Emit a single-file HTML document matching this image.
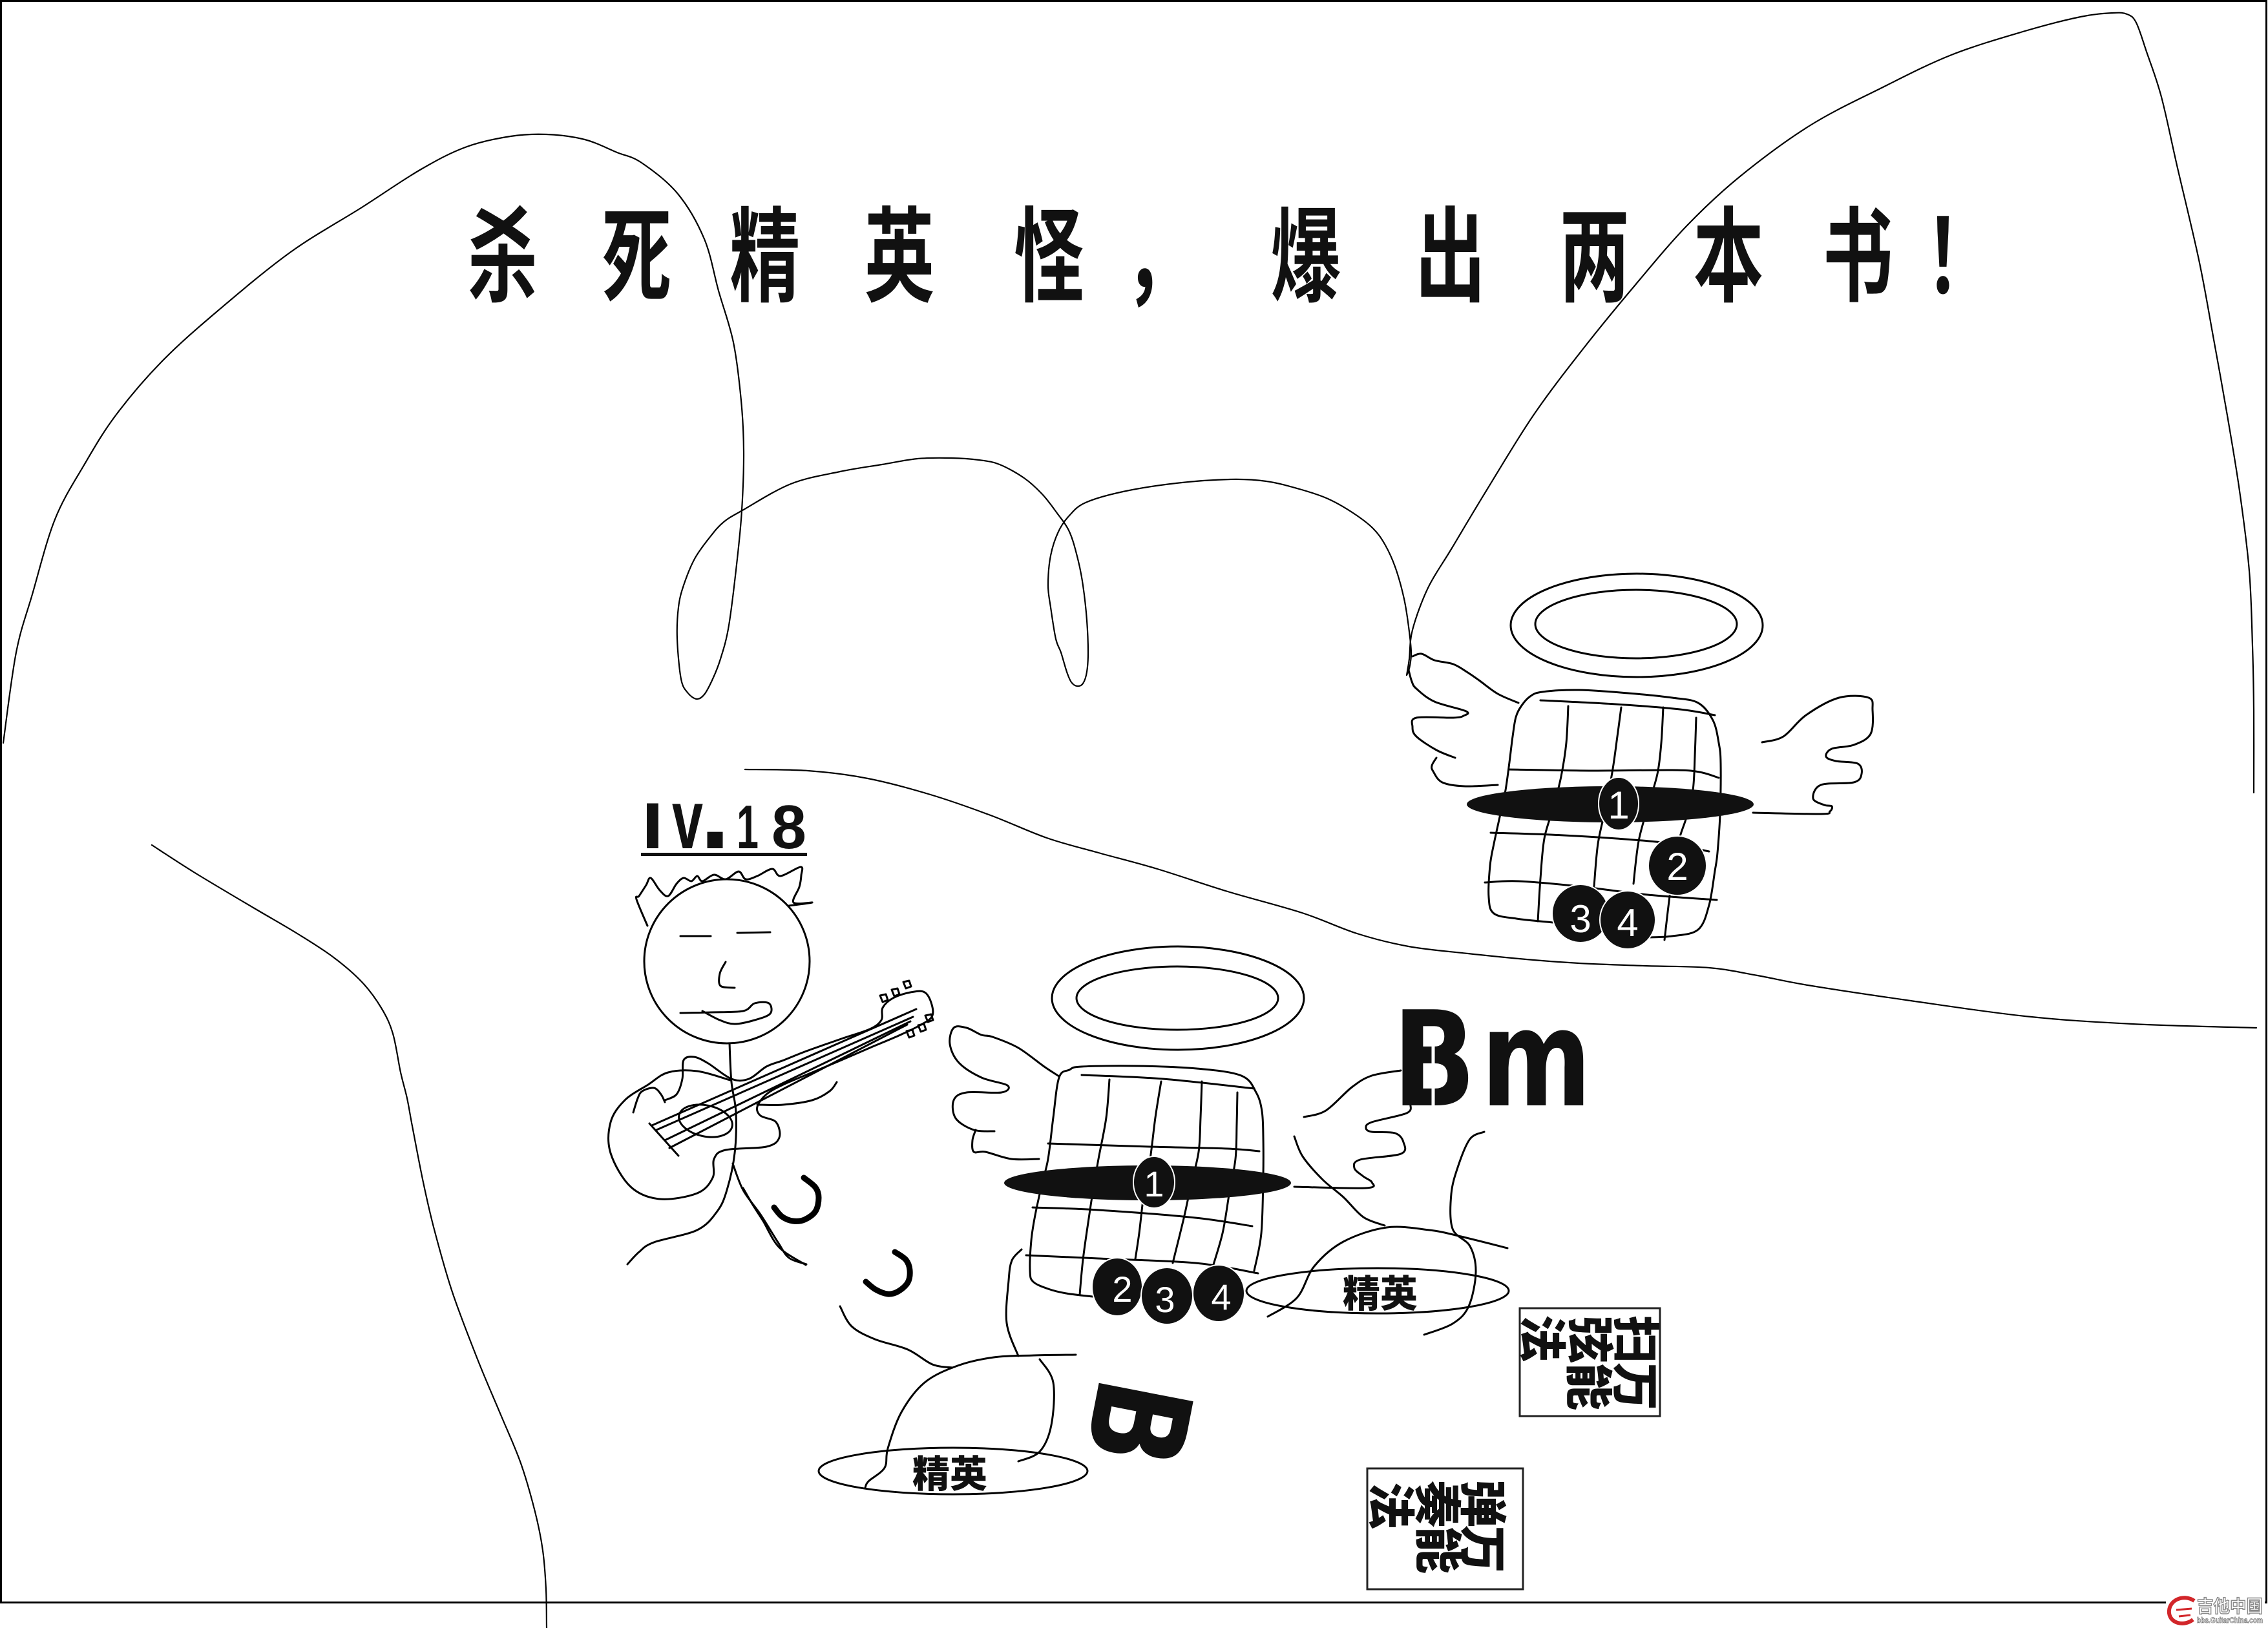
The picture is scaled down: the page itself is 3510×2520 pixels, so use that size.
<!DOCTYPE html>
<html><head><meta charset="utf-8"><style>
html,body{margin:0;padding:0;background:#fff;}
svg{display:block;}
.cjk{font-family:"Liberation Sans","Noto Sans CJK SC","WenQuanYi Zen Hei",sans-serif;}
</style></head><body>
<svg xmlns="http://www.w3.org/2000/svg" width="3510" height="2520" viewBox="0 0 3510 2520">
<rect width="3510" height="2520" fill="#fff"/>
<rect x="1.5" y="1.5" width="3506" height="2479" fill="none" stroke="#000" stroke-width="3"/>

<!-- title -->
<text class="cjk" transform="scale(0.68 1)" y="454" font-size="160" font-weight="700" text-anchor="middle" fill="#111" x="1144 1449 1741 2047 2387 2640 2972 3301 3629 3934 4228 4462">杀死精英怪，爆出两本书！</text>

<!-- big thin curves -->
<g fill="none" stroke="#000" stroke-width="2.2" stroke-linecap="round" stroke-linejoin="round">
<polyline points="5,1150 25,1010 50,920 85,804 130,720 179,643 250,560 336,482 450,390 560,321 650,263 720,228 790,211 846,208 905,216 955,236 993,252 1049,300 1090,370 1112,450 1135,530 1147,620 1151,699 1148,790 1141,865 1128,968 1115,1020 1103,1051 1090,1075 1078,1082 1064,1072 1054,1051 1048,989 1050,940 1058,906 1075,865 1099,831 1120,808 1149,790 1224,749 1300,730 1365,719 1420,710 1472,709 1515,712 1547,719 1585,740 1613,765 1635,793 1655,823 1668,865 1676,906 1682,960 1684,1010 1682,1040 1676,1058 1667,1062 1658,1056 1651,1040 1642,1010 1634,989 1626,940 1622,906 1626,860 1638,823 1655,798 1680,778 1738,761 1820,748 1904,742 1960,745 2011,757 2055,772 2094,794 2125,818 2144,844 2160,880 2173,927 2180,970 2184,1010 2181,1035 2177,1045"/>
<polyline points="2177,1045 2181,1020 2186,975 2210,910 2246,850 2300,760 2373,643 2450,540 2530,442 2610,350 2693,273 2800,195 2910,137 3020,85 3134,48 3220,26 3270,20 3292,22 3306,35 3322,80 3345,150 3370,260 3403,402 3425,520 3447,643 3466,760 3481,884 3486,1000 3488,1100 3488,1227"/>
<polyline points="1153,1191 1250,1193 1343,1205 1440,1230 1533,1262 1620,1297 1700,1320 1791,1345 1900,1380 2015,1413 2100,1445 2180,1465 2272,1476 2362,1485 2444,1491 2545,1495 2645,1498 2720,1510 2798,1525 2950,1548 3134,1573 3300,1585 3492,1591"/>
<polyline points="235,1308 300,1350 392,1405 460,1445 515,1481 560,1520 590,1560 608,1600 620,1660 630,1700 638,1743 655,1830 672,1903 700,2000 739,2104 775,2190 806,2265 828,2340 840,2400 845,2460 846,2520"/>
</g>

<!-- upper angel -->
<g fill="none" stroke="#000" stroke-width="3" stroke-linecap="round" stroke-linejoin="round">
<ellipse cx="2533" cy="968" rx="195" ry="80"/>
<ellipse cx="2532" cy="966" rx="156" ry="53"/>
<polyline points="2404,1428 2347,1422 2312,1414 2304,1389 2306,1340 2312,1306 2322,1260 2330,1223 2336,1180 2341,1140 2346,1110 2355,1092 2368,1078 2387,1071 2444,1068 2520,1073 2588,1080 2628,1088 2651,1115 2660,1150 2663,1182 2662,1260 2658,1320 2654,1348 2645,1401 2628,1439 2588,1449 2548,1451"/>
<polyline points="2384,1084 2500,1090 2600,1098 2654,1107"/>
<polyline points="2335,1191 2460,1193 2588,1192 2630,1195 2660,1204"/>
<polyline points="2307,1289 2400,1292 2502,1298 2580,1305 2645,1318"/>
<polyline points="2298,1366 2350,1364 2444,1372 2550,1385 2657,1393"/>
<polyline points="2427,1093 2424,1150 2416,1202 2404,1250 2390,1298 2384,1360 2380,1426"/>
<polyline points="2509,1095 2503,1140 2496,1190 2485,1250 2473,1306 2467,1372"/>
<polyline points="2574,1095 2571,1150 2565,1198 2550,1250 2536,1302 2528,1368"/>
<polyline points="2625,1111 2623,1170 2620,1223 2610,1265 2597,1306 2585,1380 2576,1455"/>
<polyline points="2186,1016 2200,1012 2220,1022 2249,1028 2270,1040 2289,1053 2318,1074 2350,1088"/>
<polyline points="2180,1037 2185,1055 2192,1066 2220,1086 2269,1101 2265,1108 2249,1111 2192,1111 2186,1125 2192,1140 2223,1161 2252,1173"/>
<polyline points="2223,1173 2216,1185 2218,1194 2232,1211 2266,1217 2318,1215"/>
<polyline points="2727,1149 2760,1140 2795,1107 2846,1080 2892,1080 2898,1099 2895,1136 2869,1153 2835,1159 2826,1171 2841,1178 2875,1182 2881,1198 2869,1211 2818,1215 2806,1236 2823,1246 2835,1248 2832,1256 2818,1260 2713,1258"/>
</g>
<g fill="#111" stroke="#fff" stroke-width="2">
<ellipse cx="2492" cy="1245" rx="222" ry="28" stroke="none"/>
<ellipse cx="2505" cy="1244" rx="31" ry="41"/>
<ellipse cx="2596" cy="1340" rx="45" ry="46"/>
<ellipse cx="2446" cy="1414" rx="44" ry="45"/>
<ellipse cx="2519" cy="1424" rx="43" ry="45"/>
</g>
<g font-family="Liberation Sans, sans-serif" font-size="60" fill="#fff" text-anchor="middle">
<text x="2505" y="1267">1</text>
<text x="2596" y="1362">2</text>
<text x="2446" y="1443">3</text>
<text x="2519" y="1449">4</text>
</g>

<!-- lower angel -->
<g fill="none" stroke="#000" stroke-width="3" stroke-linecap="round" stroke-linejoin="round">
<ellipse cx="1823" cy="1545" rx="195" ry="80"/>
<ellipse cx="1822" cy="1545" rx="156" ry="49"/>
<polyline points="1691,2007 1650,2002 1622,1995 1599,1984 1594,1967 1596,1920 1602,1881 1612,1835 1622,1794 1630,1730 1639,1668 1655,1656 1674,1651 1760,1650 1852,1654 1921,1665 1944,1691 1953,1720 1955,1760 1955,1820 1952,1909 1941,1967"/>
<polyline points="1674,1664 1800,1670 1941,1685"/>
<polyline points="1622,1770 1780,1775 1900,1778 1949,1782"/>
<polyline points="1598,1869 1700,1873 1850,1885 1938,1898"/>
<polyline points="1588,1943 1700,1948 1850,1955 1947,1971"/>
<polyline points="1717,1671 1712,1730 1700,1794 1692,1840 1685,1886 1676,1950 1671,2004"/>
<polyline points="1797,1674 1788,1730 1780,1794 1770,1850 1763,1909 1757,1949"/>
<polyline points="1860,1674 1858,1730 1855,1783 1843,1835 1832,1886 1815,1955"/>
<polyline points="1915,1691 1914,1740 1912,1794 1902,1850 1892,1909 1875,1967"/>
<polyline points="1639,1666 1616,1651 1576,1622 1536,1605 1519,1602 1496,1591 1476,1591 1470,1616 1484,1645 1519,1668 1559,1680 1550,1691 1496,1691 1476,1703 1479,1731 1507,1749 1539,1751"/>
<polyline points="1510,1749 1505,1765 1507,1783 1525,1783 1565,1794 1608,1794"/>
<polyline points="2018,1729 2052,1719 2092,1683 2123,1665 2168,1657"/>
<polyline points="2183,1710 2177,1723 2123,1737 2114,1746 2123,1752 2159,1754 2172,1768 2168,1786 2105,1795 2096,1808 2110,1821 2123,1830 2114,1839 2003,1837"/>
<polyline points="2003,1759 2016,1790 2047,1826 2079,1853 2110,1884 2143,1897"/>
<polyline points="1962,2038 2007,2009 2034,1960 2079,1922 2146,1900 2212,1904 2257,1913 2333,1932"/>
<polyline points="2297,1752 2275,1763 2257,1804 2246,1848 2248,1902 2275,1929 2284,1969 2273,2022 2248,2049 2204,2066"/>
<ellipse cx="2132" cy="1998" rx="203" ry="35"/>
<!-- lower-left monster -->
<polyline points="1150,1839 1165,1865 1181,1890 1206,1931 1247,1958"/>
<polyline points="1300,2022 1318,2053 1354,2073 1405,2089 1443,2112 1474,2117"/>
<polyline points="1339,2303 1344,2293 1369,2272 1374,2242 1395,2186 1431,2140 1482,2114 1538,2101 1600,2098 1665,2097"/>
<polyline points="1576,2262 1609,2247 1627,2206 1630,2140 1609,2104"/>
<polyline points="1581,1934 1566,1951 1561,1982 1558,2048 1576,2099"/>
<ellipse cx="1475" cy="2277" rx="208" ry="36"/>
</g>
<g fill="none" stroke="#000" stroke-width="9" stroke-linecap="round">
<polyline points="1244,1823 1262,1838 1267,1854 1262,1875 1245,1888 1227,1890 1210,1883 1198,1869"/>
<polyline points="1385,1938 1402,1950 1408,1966 1405,1985 1390,1999 1374,2003 1355,1996 1340,1984"/>
</g>
<g fill="#111" stroke="#fff" stroke-width="2">
<ellipse cx="1776" cy="1831" rx="222" ry="27" stroke="none"/>
<ellipse cx="1786" cy="1830" rx="32" ry="40"/>
<ellipse cx="1729" cy="1992" rx="39" ry="45"/>
<ellipse cx="1806" cy="2006" rx="40" ry="44"/>
<ellipse cx="1886" cy="2002" rx="40" ry="44"/>
</g>
<g font-family="Liberation Sans, sans-serif" font-size="56" fill="#fff" text-anchor="middle">
<text x="1786" y="1852">1</text>
<text x="1737" y="2015">2</text>
<text x="1803" y="2031">3</text>
<text x="1890" y="2027">4</text>
</g>
<text class="cjk" x="2136" y="2023" font-size="58" font-weight="900" text-anchor="middle" fill="#111">精英</text>
<text class="cjk" x="1470" y="2302" font-size="58" font-weight="900" text-anchor="middle" fill="#111">精英</text>

<!-- Bm -->
<text transform="translate(2155,1711) scale(0.83 1)" font-family="DejaVu Sans, sans-serif" font-weight="700" font-size="204" fill="#111">B</text>
<text transform="translate(2292,1711) scale(0.79 1)" font-family="DejaVu Sans, sans-serif" font-weight="700" font-size="208" fill="#111">m</text>
<line x1="2218" y1="1604" x2="2218" y2="1714" stroke="#fff" stroke-width="5"/>
<!-- rotated B -->
<text transform="translate(1764,2203) rotate(101) scale(0.83 1)" x="0" y="74" text-anchor="middle" font-family="DejaVu Sans, sans-serif" font-weight="700" font-size="204" fill="#111">B</text>

<!-- boxes: glyphs rotated 90deg clockwise -->
<rect x="2352" y="2025" width="217" height="167" fill="none" stroke="#222" stroke-width="3"/>
<g class="cjk" font-size="74" font-weight="900" fill="#111" text-anchor="middle">
<text transform="translate(2533,2073) rotate(90)" x="0" y="28">扫</text>
<text transform="translate(2532,2146) rotate(90)" x="0" y="28">万</text>
<text transform="translate(2462,2073) rotate(90)" x="0" y="28">弦</text>
<text transform="translate(2460,2146) rotate(90)" x="0" y="28">能</text>
<text transform="translate(2388,2072) rotate(90)" x="0" y="28">法</text>
</g>
<rect x="2116" y="2273" width="241" height="187" fill="none" stroke="#222" stroke-width="3"/>
<g class="cjk" font-size="74" font-weight="900" fill="#111" text-anchor="middle">
<text transform="translate(2296,2327) rotate(90)" x="0" y="28">弹</text>
<text transform="translate(2296,2398) rotate(90)" x="0" y="28">万</text>
<text transform="translate(2226,2328) rotate(90)" x="0" y="28">奏</text>
<text transform="translate(2227,2399) rotate(90)" x="0" y="28">能</text>
<text transform="translate(2154,2331) rotate(90)" x="0" y="28">法</text>
</g>

<!-- stick figure -->
<text x="992" y="1313" font-family="Liberation Sans, sans-serif" font-weight="700" font-size="96" fill="#111" textLength="36" lengthAdjust="spacingAndGlyphs">l</text>
<text x="1040" y="1313" font-family="Liberation Sans, sans-serif" font-weight="700" font-size="130" fill="#111" textLength="48" lengthAdjust="spacingAndGlyphs">v</text>
<text x="1083" y="1313" font-family="Liberation Sans, sans-serif" font-weight="700" font-size="170" fill="#111">.</text>
<text x="1140" y="1313" font-family="Liberation Sans, sans-serif" font-weight="700" font-size="96" fill="#111" textLength="34" lengthAdjust="spacingAndGlyphs">1</text>
<text x="1194" y="1313" font-family="Liberation Sans, sans-serif" font-weight="700" font-size="96" fill="#111" textLength="54" lengthAdjust="spacingAndGlyphs">8</text>
<rect x="992" y="1320" width="257" height="5" fill="#111"/>
<g fill="none" stroke="#000" stroke-width="3" stroke-linecap="round" stroke-linejoin="round">
<ellipse cx="1125" cy="1488" rx="128" ry="127"/>
<polyline points="1002,1433 985,1392 989,1387 1000,1370 1007,1359 1021,1378 1034,1387 1047,1368 1058,1359 1070,1364 1079,1356 1087,1364 1105,1354 1123,1361 1143,1349 1154,1361 1172,1356 1195,1345 1208,1356 1239,1342 1240,1355 1237,1373 1228,1397 1257,1397 1221,1402"/>
<line x1="1053" y1="1449" x2="1100" y2="1449"/>
<line x1="1141" y1="1444" x2="1192" y2="1443"/>
<polyline points="1123,1489 1114,1507 1115,1526 1137,1529"/>
<polyline points="1053,1568 1100,1567 1150,1565 1168,1553 1190,1553 1192,1569 1168,1579 1137,1585 1114,1579 1087,1565"/>
<polyline points="1129,1615 1132,1675 1139,1722 1137,1785 1125,1842 1110,1875 1079,1904 1012,1923 989,1938 971,1957"/>
<polyline points="1134,1801 1150,1842 1177,1880 1204,1923 1221,1947 1248,1957"/>
<polyline points="980,1722 987,1700 994,1689 1012,1684 1023,1694 1029,1706"/>
<polyline points="1029,1703 1047,1694 1056,1670 1058,1641 1074,1636 1096,1646 1132,1670 1159,1670 1186,1651 1213,1641 1248,1627 1302,1608 1346,1593 1364,1579 1366,1560 1382,1545 1409,1536 1431,1536 1442,1555 1442,1574 1422,1588 1391,1603 1346,1622 1302,1641 1257,1660 1212,1679 1186,1694 1172,1713 1177,1727 1201,1737 1206,1761 1186,1775 1123,1780 1105,1794 1103,1823 1079,1847 1021,1856 976,1837 945,1785 945,1737 967,1703 1003,1679 1034,1660 1079,1658 1130,1672"/>
<polyline points="1172,1710 1212,1710 1257,1703 1284,1689 1295,1675"/>
<ellipse cx="1092" cy="1735" rx="42" ry="24" transform="rotate(12 1092 1735)"/>
<line x1="1009" y1="1742" x2="1418" y2="1562"/>
<line x1="1016" y1="1749" x2="1413" y2="1574"/>
<line x1="1029" y1="1765" x2="1409" y2="1581"/>
<line x1="1036" y1="1777" x2="1404" y2="1586"/>
<line x1="1005" y1="1739" x2="1050" y2="1789"/>
<polygon points="1362,1541 1371,1539 1374,1548 1366,1551"/>
<polygon points="1380,1532 1389,1530 1392,1539 1384,1542"/>
<polygon points="1398,1520 1407,1518 1410,1527 1402,1530"/>
<polygon points="1432,1572 1441,1570 1444,1579 1436,1582"/>
<polygon points="1421,1587 1430,1585 1433,1594 1425,1597"/>
<polygon points="1403,1596 1412,1594 1415,1603 1407,1606"/>
</g>

<!-- watermark -->
<rect x="3352" y="2466" width="153" height="52" fill="#fff"/>
<path d="M3396,2478 C3378,2466 3355,2478 3357,2497 C3359,2513 3380,2518 3394,2507" fill="none" stroke="#d2262a" stroke-width="6"/>
<path d="M3368,2492 L3392,2490 M3372,2502 L3390,2500" stroke="#d2262a" stroke-width="3"/>
<text class="cjk" x="3400" y="2496" font-size="27" font-weight="700" fill="#fff" stroke="#8a8a8a" stroke-width="1.5" textLength="102" lengthAdjust="spacingAndGlyphs">吉他中国</text>
<text x="3400" y="2512" font-family="Liberation Sans, sans-serif" font-size="12" font-weight="700" fill="#fff" stroke="#777" stroke-width="0.8" textLength="102" lengthAdjust="spacingAndGlyphs">bbs.GuitarChina.com</text>
</svg>
<script>
(function(){
var NS='http://www.w3.org/2000/svg';
var pls=document.querySelectorAll('polyline');
for(var k=0;k<pls.length;k++){
 var pl=pls[k];
 var pts=pl.getAttribute('points').trim().split(/\s+/).map(function(s){var a=s.split(',');return [parseFloat(a[0]),parseFloat(a[1])];});
 if(pts.length<3) continue;
 var d='M'+pts[0][0]+','+pts[0][1];
 for(var i=0;i<pts.length-1;i++){
  var p0=pts[i>0?i-1:0],p1=pts[i],p2=pts[i+1],p3=pts[i+2<pts.length?i+2:i+1];
  d+=' C'+(p1[0]+(p2[0]-p0[0])/6).toFixed(1)+','+(p1[1]+(p2[1]-p0[1])/6).toFixed(1)+' '+(p2[0]-(p3[0]-p1[0])/6).toFixed(1)+','+(p2[1]-(p3[1]-p1[1])/6).toFixed(1)+' '+p2[0]+','+p2[1];
 }
 var p=document.createElementNS(NS,'path');
 p.setAttribute('d',d);
 for(var j=0;j<pl.attributes.length;j++){var at=pl.attributes[j];if(at.name!=='points')p.setAttribute(at.name,at.value);}
 pl.parentNode.replaceChild(p,pl);
}
})();
</script>
</body></html>
